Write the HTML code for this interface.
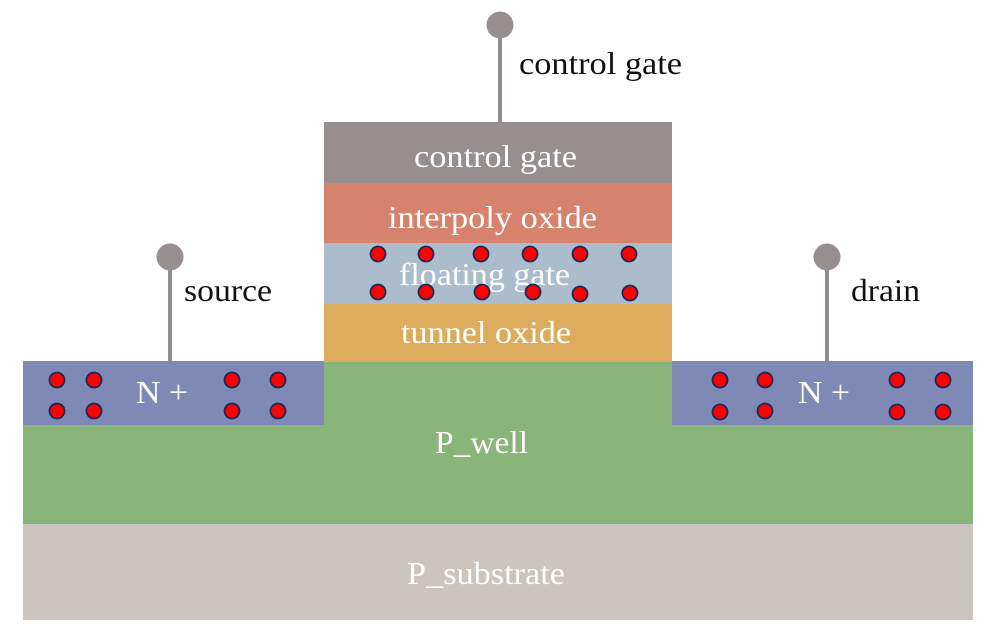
<!DOCTYPE html>
<html><head><meta charset="utf-8"><style>
html,body{margin:0;padding:0;background:#fff;width:993px;height:644px;overflow:hidden}
svg{display:block}
text{font-family:"Liberation Serif",serif;font-size:32px}
.w{fill:#fff}
.k{fill:#111}
</style></head><body>
<svg width="993" height="644" viewBox="0 0 993 644" xmlns="http://www.w3.org/2000/svg">
<rect x="23" y="523" width="950" height="97" fill="#cbc4bf"/>
<rect x="23" y="361" width="950" height="163" fill="#89b57a"/>
<rect x="23" y="361" width="301" height="64" fill="#7f89b5"/>
<rect x="672" y="361" width="301" height="64" fill="#7f89b5"/>
<rect x="324" y="122" width="348" height="62" fill="#968e8f"/>
<rect x="324" y="183" width="348" height="61" fill="#d6826d"/>
<rect x="324" y="243" width="348" height="61" fill="#abbdcd"/>
<rect x="324" y="304" width="348" height="58" fill="#dcac5c"/>
<g stroke="#938c8d" stroke-width="4">
<line x1="500" y1="25" x2="500" y2="122"/>
<line x1="170" y1="257" x2="170" y2="361"/>
<line x1="827" y1="257" x2="827" y2="361"/>
</g>
<g fill="#968e8f">
<circle cx="500" cy="25" r="13.5"/>
<circle cx="170" cy="257" r="13.5"/>
<circle cx="827" cy="257" r="13.5"/>
</g>
<text class="k" x="519" y="74" textLength="163" lengthAdjust="spacingAndGlyphs">control gate</text>
<text class="k" x="184" y="301" textLength="88" lengthAdjust="spacingAndGlyphs">source</text>
<text class="k" x="851" y="301" textLength="69" lengthAdjust="spacingAndGlyphs">drain</text>
<text class="w" x="414" y="167" textLength="163" lengthAdjust="spacingAndGlyphs">control gate</text>
<text class="w" x="388" y="228" textLength="209" lengthAdjust="spacingAndGlyphs">interpoly oxide</text>
<text class="w" x="399" y="285" textLength="171" lengthAdjust="spacingAndGlyphs">floating gate</text>
<text class="w" x="401" y="343" textLength="170" lengthAdjust="spacingAndGlyphs">tunnel oxide</text>
<text class="w" x="136" y="403" textLength="52" lengthAdjust="spacingAndGlyphs">N +</text>
<text class="w" x="798" y="403" textLength="52" lengthAdjust="spacingAndGlyphs">N +</text>
<text class="w" x="435" y="453" textLength="93" lengthAdjust="spacingAndGlyphs">P_well</text>
<text class="w" x="407" y="584" textLength="158" lengthAdjust="spacingAndGlyphs">P_substrate</text>
<g fill="#f00" stroke="#1a2a5a" stroke-width="1.8">
<circle cx="57" cy="380" r="7.5"/><circle cx="94" cy="380" r="7.5"/><circle cx="232" cy="380" r="7.5"/><circle cx="278" cy="380" r="7.5"/>
<circle cx="57" cy="411" r="7.5"/><circle cx="94" cy="411" r="7.5"/><circle cx="232" cy="411" r="7.5"/><circle cx="278" cy="411" r="7.5"/>
<circle cx="720" cy="380" r="7.5"/><circle cx="765" cy="380" r="7.5"/><circle cx="897" cy="380" r="7.5"/><circle cx="943" cy="380" r="7.5"/>
<circle cx="720" cy="412" r="7.5"/><circle cx="765" cy="411" r="7.5"/><circle cx="897" cy="412" r="7.5"/><circle cx="943" cy="412" r="7.5"/>
<circle cx="378" cy="254" r="7.5"/><circle cx="426" cy="254" r="7.5"/><circle cx="481" cy="254" r="7.5"/><circle cx="530" cy="254" r="7.5"/><circle cx="580" cy="254" r="7.5"/><circle cx="629" cy="254" r="7.5"/>
<circle cx="378" cy="292" r="7.5"/><circle cx="426" cy="292" r="7.5"/><circle cx="482" cy="292" r="7.5"/><circle cx="533" cy="292" r="7.5"/><circle cx="580" cy="294" r="7.5"/><circle cx="630" cy="293" r="7.5"/>
</g>
</svg>
</body></html>
